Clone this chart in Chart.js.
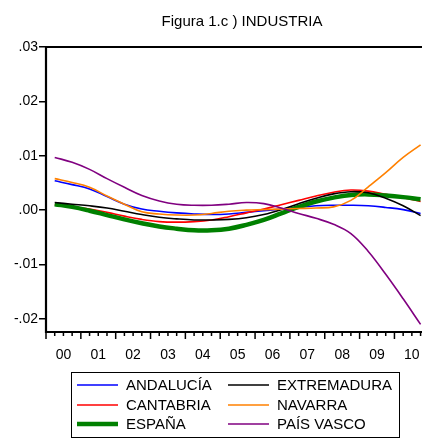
<!DOCTYPE html>
<html>
<head>
<meta charset="utf-8">
<script src="https://cdn.jsdelivr.net/npm/chart.js@4.4.1/dist/chart.umd.min.js"></script>
<style>
  html, body { margin: 0; padding: 0; background: #fff; overflow: hidden; }
  #wrap { width: 445px; height: 438px; }
</style>
</head>
<body>
<div id="wrap"><canvas id="chart"></canvas></div>
<script>
// observations read every second quarter
const quarters = ['2000Q1','2000Q3','2001Q1','2001Q3','2002Q1','2002Q3','2003Q1','2003Q3',
    '2004Q1','2004Q3','2005Q1','2005Q3','2006Q1','2006Q3','2007Q1','2007Q3',
    '2008Q1','2008Q3','2009Q1','2009Q3','2010Q1','2010Q3'];

const yearLabels = ['00','01','02','03','04','05','06','07','08','09','10'];
const yTicks = [-0.02, -0.01, 0, 0.01, 0.02, 0.03];

const andalucia   = [0.0054,0.0047,0.0039,0.0025,0.0011,0.0002,-0.0002,-0.0005,-0.0007,-0.0008,-0.0007,-0.0004,-0.0001,0.0002,0.0005,0.0008,0.0009,0.0009,0.0008,0.0005,0.0001,-0.0006];
const cantabria   = [0.0010,0.0006,0.0002,-0.0004,-0.0011,-0.0017,-0.0021,-0.0022,-0.0021,-0.0018,-0.0012,-0.0005,0.0002,0.0010,0.0018,0.0026,0.0033,0.0037,0.0035,0.0029,0.0023,0.0016];
const espana      = [0.0011,0.0006,-0.0001,-0.0009,-0.0017,-0.0024,-0.0030,-0.0034,-0.0037,-0.0037,-0.0034,-0.0027,-0.0018,-0.0006,0.0006,0.0016,0.0023,0.0028,0.0029,0.0027,0.0024,0.0020];
const extremadura = [0.0014,0.0011,0.0008,0.0004,-0.0002,-0.0008,-0.0013,-0.0016,-0.0018,-0.0018,-0.0017,-0.0014,-0.0008,0.0001,0.0012,0.0022,0.0030,0.0034,0.0032,0.0022,0.0008,-0.0010];
const navarra     = [0.0058,0.0051,0.0042,0.0026,0.0011,-0.0003,-0.0007,-0.0009,-0.0009,-0.0006,-0.0002,0.0000,0.0001,0.0002,0.0003,0.0004,0.0006,0.0018,0.0043,0.0069,0.0097,0.0120];
const paisVasco   = [0.0097,0.0088,0.0075,0.0058,0.0042,0.0027,0.0017,0.0011,0.0009,0.0009,0.0011,0.0014,0.0012,0.0004,-0.0006,-0.0015,-0.0026,-0.0043,-0.0076,-0.0118,-0.0163,-0.0210];

const FONT = '"Liberation Sans", Arial, sans-serif';

// quarter index, 0 = 2000Q1
function qIndex(s) {
    return (parseInt(s.slice(0, 4)) - 2000) * 4 + parseInt(s.slice(5)) - 1;
}

function toPoints(arr) {
    return arr.map((v, i) => ({ x: qIndex(quarters[i]), y: v }));
}

const series = [
    { label: 'ANDALUCÍA', data: andalucia, color: '#0000ff', width: 1.6 },
    { label: 'CANTABRIA', data: cantabria, color: '#ff0000', width: 1.6 },
    { label: 'ESPAÑA', data: espana, color: '#008000', width: 4.5 },
    { label: 'EXTREMADURA', data: extremadura, color: '#000000', width: 1.6 },
    { label: 'NAVARRA', data: navarra, color: '#ff8000', width: 1.6 },
    { label: 'PAÍS VASCO', data: paisVasco, color: '#800080', width: 1.6 }
];

const datasets = series.map((s, i) => ({
    label: s.label,
    data: toPoints(s.data),
    borderColor: s.color,
    borderWidth: s.width,
    pointRadius: 0,
    tension: 0.4,
    fill: false,
    order: series.length - i
}));

// frame + quarterly tick marks on x axis
const framePlugin = {
    id: 'frame',
    afterDraw(chart) {
        const c = chart.ctx, a = chart.chartArea, x = chart.scales.x;
        c.save();
        c.strokeStyle = '#000';
        c.lineWidth = 2.2;
        c.beginPath();
        c.moveTo(a.right + 5, a.top);
        c.lineTo(a.left, a.top);
        c.lineTo(a.left, a.bottom);
        c.lineTo(a.right + 5, a.bottom);
        c.stroke();
        c.lineWidth = 1.5;
        c.beginPath();
        for (let q = -1; q <= 44; q++) {
            const px = x.getPixelForValue(q);
            const len = ((q + 1) % 4 === 0) ? 7 : 4;
            c.moveTo(px, a.bottom);
            c.lineTo(px, a.bottom + len);
        }
        c.stroke();
        c.restore();
    }
};

// boxed legend, two columns
const legendPlugin = {
    id: 'boxLegend',
    afterDraw(chart) {
        const c = chart.ctx;
        const left = 71, top = 372, w = 328, h = 65;
        c.save();
        c.strokeStyle = '#000';
        c.lineWidth = 1;
        c.strokeRect(left + 0.5, top + 0.5, w, h);
        c.font = '15px ' + FONT;
        c.textBaseline = 'middle';
        c.fillStyle = '#000';
        const colX = [77, 228];
        const rowY = [385, 405, 424];
        series.forEach((s, i) => {
            const col = Math.floor(i / 3), row = i % 3;
            const x0 = colX[col], y0 = rowY[row];
            c.strokeStyle = s.color;
            c.lineWidth = s.width;
            c.beginPath();
            c.moveTo(x0, y0);
            c.lineTo(x0 + 41, y0);
            c.stroke();
            c.fillText(s.label, x0 + 49, y0 + 1);
        });
        c.restore();
    }
};

new Chart(document.getElementById('chart'), {
    type: 'line',
    data: { datasets },
    options: {
        responsive: true,
        maintainAspectRatio: false,
        animation: false,
        layout: { padding: { left: 0, right: 7, top: 0, bottom: 60 } },
        plugins: {
            legend: { display: false },
            tooltip: { enabled: false },
            title: {
                display: true,
                text: 'Figura 1.c ) INDUSTRIA',
                fullSize: false,
                color: '#000',
                font: { family: FONT, size: 15, weight: 'normal', lineHeight: 1.2 },
                padding: { top: 13, bottom: 16 }
            }
        },
        scales: {
            x: {
                type: 'linear',
                min: -1,
                max: 44,
                grid: { display: false },
                border: { display: false },
                afterBuildTicks: (s) => { s.ticks = yearLabels.map((l, i) => ({ value: 1 + 4 * i })); },
                afterFit: (s) => { s.height = 46; },
                ticks: {
                    autoSkip: false,
                    maxRotation: 0,
                    padding: 7,
                    color: '#000',
                    font: { family: FONT, size: 14 },
                    callback: (v, i) => yearLabels[i]
                }
            },
            y: {
                min: -0.0224,
                max: 0.03,
                afterBuildTicks: (s) => { s.ticks = yTicks.map(v => ({ value: v })); },
                afterFit: (s) => { s.width = 46; },
                grid: { drawOnChartArea: false, drawTicks: true, tickLength: 7, color: '#000', lineWidth: 1.5 },
                border: { display: false },
                ticks: {
                    padding: 1,
                    color: '#000',
                    font: { family: FONT, size: 14 },
                    callback: (v) => {
                        const s = Math.abs(v).toFixed(2).replace(/^0/, '');
                        return (v < -1e-9 ? '-' : '') + s;
                    }
                }
            }
        }
    },
    plugins: [framePlugin, legendPlugin]
});
</script>
</body>
</html>
